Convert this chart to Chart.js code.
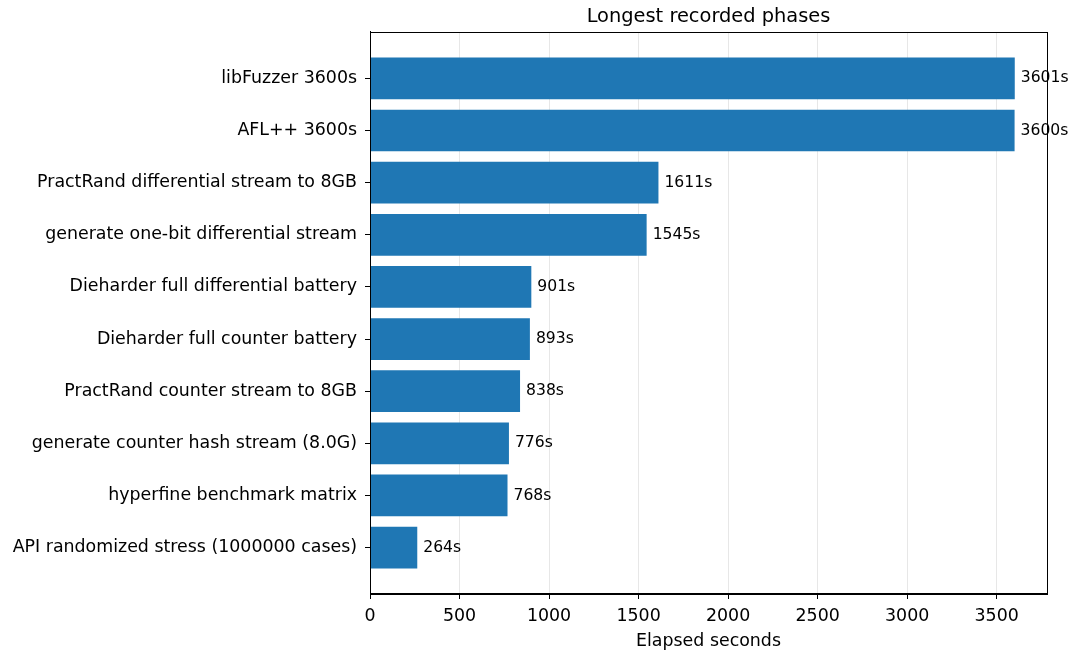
<!DOCTYPE html>
<html>
<head>
<meta charset="utf-8">
<script src="https://cdn.jsdelivr.net/npm/chart.js@4"></script>
<style>
  html, body { margin: 0; padding: 0; background: #fff; }
  #wrap { width: 1072px; height: 653px; }
</style>
</head>
<body>
<div id="wrap"><canvas id="c" width="1072" height="653"></canvas></div>
<script>
const categories = [
  "libFuzzer 3600s",
  "AFL++ 3600s",
  "PractRand differential stream to 8GB",
  "generate one-bit differential stream",
  "Dieharder full differential battery",
  "Dieharder full counter battery",
  "PractRand counter stream to 8GB",
  "generate counter hash stream (8.0G)",
  "hyperfine benchmark matrix",
  "API randomized stress (1000000 cases)"
];
const elapsedSeconds = [3601, 3600, 1611, 1545, 901, 893, 838, 776, 768, 264];
const xTickValues = [0, 500, 1000, 1500, 2000, 2500, 3000, 3500];

const FONT = "'DejaVu Sans', sans-serif";
const TICK_PX = 17.4;
const LABEL_PX = 15.6;
const TITLE_PX = 19.4;

const xMax = Math.max(...elapsedSeconds) * 1.05;
const yMin = -0.4 - 0.049 * 10;
const yMax = 9.4 + 0.049 * 10;

const valueLabels = {
  id: 'valueLabels',
  afterDatasetsDraw(chart) {
    const ctx = chart.ctx;
    const meta = chart.getDatasetMeta(0);
    ctx.save();
    ctx.font = LABEL_PX + "px " + FONT;
    ctx.fillStyle = '#000';
    ctx.textAlign = 'left';
    ctx.textBaseline = 'middle';
    meta.data.forEach((bar, i) => {
      ctx.fillText(elapsedSeconds[i] + 's', bar.x + 6, bar.y);
    });
    ctx.restore();
  }
};

const frame = {
  id: 'frame',
  afterDraw(chart) {
    const a = chart.chartArea;
    const ctx = chart.ctx;
    ctx.save();
    ctx.strokeStyle = '#000';
    ctx.lineWidth = 1;
    ctx.strokeRect(Math.round(a.left) + 0.5, Math.round(a.top) + 0.5,
                   Math.round(a.right - a.left), Math.round(a.bottom - a.top) - 1);
    ctx.restore();
  }
};

new Chart(document.getElementById('c'), {
  type: 'bar',
  data: {
    datasets: [{
      data: elapsedSeconds.map((v, i) => ({ x: v, y: i })),
      backgroundColor: '#1f77b4',
      borderWidth: 0,
      barPercentage: 0.8,
      categoryPercentage: 1.0
    }]
  },
  plugins: [valueLabels, frame],
  options: {
    indexAxis: 'y',
    responsive: false,
    animation: false,
    devicePixelRatio: 1,
    layout: { padding: { left: 0, right: 25, top: 0, bottom: 0 } },
    plugins: {
      legend: { display: false },
      tooltip: { enabled: false },
      title: {
        display: true,
        text: 'Longest recorded phases',
        fullSize: false,
        color: '#000',
        font: { family: FONT, size: TITLE_PX, weight: 'normal', lineHeight: 1.2 },
        padding: { top: 5.5, bottom: 3.2 }
      }
    },
    scales: {
      x: {
        type: 'linear',
        position: 'bottom',
        min: 0,
        max: xMax,
        z: 1,
        afterBuildTicks: (s) => { s.ticks = xTickValues.map(v => ({ value: v })); },
        afterFit: (s) => { s.height = 59; },
        ticks: {
          color: '#000',
          font: { family: FONT, size: TICK_PX },
          padding: 7.5,
          maxRotation: 0,
          callback: (v) => String(v)
        },
        grid: {
          color: 'rgba(176,176,176,0.3)',
          lineWidth: 1,
          tickColor: '#000',
          tickLength: 5,
          drawOnChartArea: true
        },
        border: { display: true, color: '#000', width: 1 },
        title: {
          display: true,
          text: 'Elapsed seconds',
          color: '#000',
          font: { family: FONT, size: TICK_PX },
          padding: { top: 0, bottom: 1.5 }
        }
      },
      y: {
        type: 'linear',
        position: 'left',
        reverse: true,
        offset: false,
        min: yMin,
        max: yMax,
        afterBuildTicks: (s) => { s.ticks = categories.map((_, i) => ({ value: i })); },
        afterFit: (s) => { s.width = 370; },
        ticks: {
          color: '#000',
          font: { family: FONT, size: TICK_PX },
          padding: 8,
          autoSkip: false,
          callback: (v) => categories[v]
        },
        grid: {
          offset: false,
          drawOnChartArea: false,
          tickColor: '#000',
          tickLength: 5
        },
        border: { display: true, color: '#000', width: 1 }
      }
    }
  }
});
</script>
</body>
</html>
